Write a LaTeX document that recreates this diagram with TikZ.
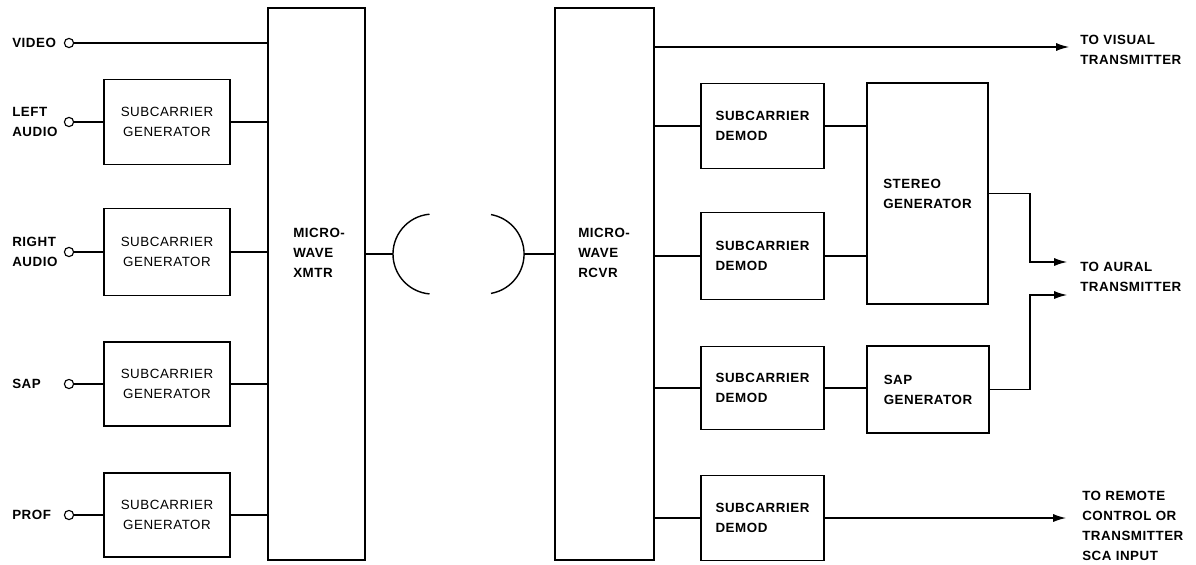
\documentclass[tikz,border=0pt]{standalone}
\usepackage{fontspec}
\setmainfont{Liberation Sans}[LetterSpace=4]
\usetikzlibrary{arrows.meta,calc}
\begin{document}
\begin{tikzpicture}[x=0.025cm,y=-0.025cm,
  txt/.style={font=\fontsize{9.5}{14.2}\selectfont\bfseries},
  txtl/.style={font=\fontsize{9.5}{14.2}\selectfont},
  blk/.style={draw,line width=1.3pt,inner sep=0,align=left,txt},
  wire/.style={line width=0.9pt},
  arr/.style={wire,-{Latex[length=0.32cm,width=0.2cm]}},
  term/.style={draw,circle,line width=0.8pt,minimum size=0.23cm,inner sep=0},
  lbl/.style={anchor=west,align=left,inner sep=0,txt},
]
\useasboundingbox (0,0) rectangle (1196,565);

% ---------- inputs ----------
\node[lbl] (lvideo) at (12,43) {VIDEO};
\node[lbl] (lleft) at (12,122) {LEFT\\AUDIO};
\node[lbl] (lright) at (12,252) {RIGHT\\AUDIO};
\node[lbl] (lsap) at (12,384) {SAP};
\node[lbl] (lprof) at (12,515) {PROF};

\node[term] (in1) at (69,43) {};
\node[term] (in2) at (69,122) {};
\node[term] (in3) at (69,252) {};
\node[term] (in4) at (69,384) {};
\node[term] (in5) at (69,515) {};

% ---------- subcarrier generators ----------
\node[blk,txtl,align=center,minimum width=3.15cm,minimum height=2.125cm] (sg1) at (167,122) {SUBCARRIER\\GENERATOR};
\node[blk,txtl,align=center,minimum width=3.15cm,minimum height=2.175cm] (sg2) at (167,252) {SUBCARRIER\\GENERATOR};
\node[blk,txtl,align=center,minimum width=3.15cm,minimum height=2.1cm] (sg3) at (167,384) {SUBCARRIER\\GENERATOR};
\node[blk,txtl,align=center,minimum width=3.15cm,minimum height=2.1cm] (sg4) at (167,515) {SUBCARRIER\\GENERATOR};

% ---------- microwave transmitter / receiver ----------
\node[blk,minimum width=2.425cm,minimum height=13.8cm] (xmtr) at (316.5,284) {};
\node[lbl] (xmtrtxt) at (293,253) {MICRO-\\WAVE\\XMTR};
\node[blk,minimum width=2.475cm,minimum height=13.8cm] (rcvr) at (604.5,284) {};
\node[lbl] (rcvrtxt) at (578,253) {MICRO-\\WAVE\\RCVR};

% ---------- input wiring ----------
\draw[wire] (in1.east) -- (in1 -| xmtr.west);
\foreach \i/\b in {2/sg1,3/sg2,4/sg3,5/sg4}{
  \draw[wire] (in\i.east) -- (\b.west);
  \draw[wire] (\b.east) -- (\b -| xmtr.west);
}

% ---------- antennas ----------
\coordinate (antL) at (393,254);
\coordinate (antR) at (524,254);
\draw[wire] (antL -| xmtr.east) -- (antL);
\draw[wire] (antR -| rcvr.west) -- (antR);
\draw[line width=1pt] (429.5,214.2) arc[start angle=95,end angle=265,radius=1cm];
\draw[line width=1pt] (491,293.4) arc[start angle=-80,end angle=80,radius=1cm];

% ---------- demodulators ----------
\node[blk,minimum width=3.075cm,minimum height=2.125cm] (dm1) at (762.5,126) {SUBCARRIER\\DEMOD};
\node[blk,minimum width=3.075cm,minimum height=2.175cm] (dm2) at (762.5,256) {SUBCARRIER\\DEMOD};
\node[blk,minimum width=3.075cm,minimum height=2.075cm] (dm3) at (762.5,388) {SUBCARRIER\\DEMOD};
\node[blk,minimum width=3.075cm,minimum height=2.125cm] (dm4) at (762.5,518) {SUBCARRIER\\DEMOD};

\node[blk,minimum width=3.025cm,minimum height=5.525cm] (st) at (927.5,193.5) {STEREO\\GENERATOR};
\node[blk,minimum width=3.05cm,minimum height=2.175cm] (sapg) at (928,389.5) {SAP\\GENERATOR};

\foreach \d in {dm1,dm2,dm3,dm4}{
  \draw[wire] (\d -| rcvr.east) -- (\d.west);
}
\draw[wire] (dm1.east) -- (dm1.east -| st.west);
\draw[wire] (dm2.east) -- (dm2.east -| st.west);
\draw[wire] (dm3.east) -- (dm3.east -| sapg.west);

% ---------- outputs ----------
\coordinate (jx) at (1030,0);
\coordinate (vis) at (1069,47);
\coordinate (aur1) at (1067,262);
\coordinate (aur2) at (1067,295);
\coordinate (rem) at (1066,518);

\draw[arr] (vis -| rcvr.east) -- (vis);
\draw[arr] (st.east) -- (st.east -| jx) |- (aur1);
\draw[arr] (sapg.east) -- (sapg.east -| jx) |- (aur2);
\draw[arr] (dm4.east) -- (rem);

\node[lbl] (lvis) at (1080,50) {TO VISUAL\\TRANSMITTER};
\node[lbl] (laur) at (1080,277) {TO AURAL\\TRANSMITTER};
\node[lbl] (lrem) at (1082,526) {TO REMOTE\\CONTROL OR\\TRANSMITTER\\SCA INPUT};
\end{tikzpicture}
\end{document}
